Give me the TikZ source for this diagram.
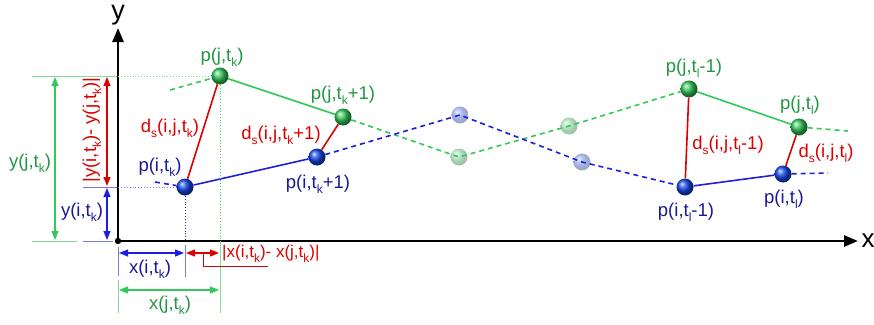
\documentclass[tikz,border=0pt]{standalone}
\usepackage{fontspec}
\setmainfont{Liberation Sans}
\usetikzlibrary{arrows.meta}

\definecolor{ptgreen}{RGB}{50,200,90}
\definecolor{txgreen}{RGB}{35,150,65}
\definecolor{ltgreen}{RGB}{130,220,150}
\definecolor{ptblue}{RGB}{30,30,220}
\definecolor{balblue}{RGB}{20,70,235}
\definecolor{txblue}{RGB}{25,25,150}
\definecolor{ltblue}{RGB}{120,120,230}
\definecolor{ptred}{RGB}{220,0,0}

\newcommand\sbs[1]{\raisebox{-5pt}{\fontsize{12}{12}\selectfont #1}}
\newcommand\tsk{t\sbs{k}}
\newcommand\tsl{t\sbs{l}}
\newcommand\dss{d\sbs{s}}

\tikzset{
  ball/.style={circle,inner sep=0pt,minimum size=17pt,shading=ball},
  gball/.style={ball,ball color=ptgreen},
  bball/.style={ball,ball color=balblue},
  faded/.style={fill opacity=0.4},
  lbl/.style={font=\fontsize{18.5}{21}\selectfont,inner sep=1pt},
  dimarrow/.style={line width=1.2pt,{Triangle[length=9pt,width=7pt]}-{Triangle[length=9pt,width=7pt]}},
  extline/.style={line width=0.9pt},
  proj/.style={line width=0.9pt,dotted},
  track/.style={line width=1.6pt},
  trackdash/.style={line width=1.6pt,dash pattern=on 5pt off 4pt}
}

\begin{document}
\begin{tikzpicture}[x=1pt,y=-1pt]
    \useasboundingbox (0,0) rectangle (874,324);

    % axes
    \coordinate (O) at (118,241);
    \draw[line width=2.6pt,-{Triangle[length=14pt,width=11pt]}] (O) -- (118,28) node[above=-2pt,font=\fontsize{27}{27}\selectfont] (ylab) {y};
    \draw[line width=2.6pt,-{Triangle[length=14pt,width=11pt]}] (O) -- (858,241) node[right=-1pt,font=\fontsize{26}{26}\selectfont] (xlab) {x};
    \fill (O) circle (3.2pt);

    % trajectory points
    \node[bball] (pik) at (185,187) {};
    \node[gball] (pjk) at (220,76) {};
    \node[gball] (pjk1) at (343,117) {};
    \node[bball] (pik1) at (317,157) {};
    \node[bball,faded] (b1) at (460,115) {};
    \node[gball,faded] (g1) at (459,157) {};
    \node[gball,faded] (g2) at (569,126) {};
    \node[bball,faded] (b2) at (582,162) {};
    \node[gball] (pjl1) at (689,89) {};
    \node[gball] (pjl) at (799,127) {};
    \node[bball] (pil1) at (685,187) {};
    \node[bball] (pil) at (783,174) {};
    \coordinate (gl) at (170,90);
    \coordinate (bl) at (155,182);
    \coordinate (gr) at (848,131);
    \coordinate (br) at (828,173);

    % tracks
    \draw[track,ptgreen] (pjk) -- (pjk1);
    \draw[track,ptgreen] (pjl1) -- (pjl);
    \draw[track,ptblue] (pik) -- (pik1);
    \draw[track,ptblue] (pil1) -- (pil);
    \draw[trackdash,ptgreen] (gl) -- (pjk);
    \draw[trackdash,ptgreen] (pjk1) -- (g1.center) -- (g2.center) -- (pjl1);
    \draw[trackdash,ptgreen] (pjl) -- (gr);
    \draw[trackdash,ptblue] (bl) -- (pik);
    \draw[trackdash,ptblue] (pik1) -- (b1.center) -- (b2.center) -- (pil1);
    \draw[trackdash,ptblue] (pil) -- (br);

    % distances
    \draw[track,ptred] (pik) -- (pjk);
    \draw[track,ptred] (pik1) -- (pjk1);
    \draw[track,ptred] (pil1) -- (pjl1);
    \draw[track,ptred] (pil) -- (pjl);

    % labels of the points
    \node[lbl,txgreen] (lpjk) at (222,57) {p(j,\tsk)};
    \node[lbl,txgreen] (lpjk1) at (343,95) {p(j,\tsk+1)};
    \node[lbl,txblue] (lpik) at (160,167) {p(i,\tsk)};
    \node[lbl,txblue] (lpik1) at (318,184) {p(i,\tsk+1)};
    \node[lbl,ptred] (ldk) at (170,128) {\dss(i,j,\tsk)};
    \node[lbl,ptred] (ldk1) at (281,135) {\dss(i,j,\tsk+1)};
    \node[lbl,txgreen] (lpjl1) at (694,68) {p(j,\tsl-1)};
    \node[lbl,txgreen] (lpjl) at (800,105) {p(j,\tsl)};
    \node[lbl,ptred] (ldl1) at (728,145) {\dss(i,j,\tsl-1)};
    \node[lbl,ptred] (ldl) at (826,153) {\dss(i,j,\tsl)};
    \node[lbl,txblue] (lpil1) at (686,212) {p(i,\tsl-1)};
    \node[lbl,txblue] (lpil) at (784,199) {p(i,\tsl)};

    % projections
    \draw[proj,ltblue] (O |- pik) -- (pik);
    \draw[proj,ptblue] (pik) -- (pik |- O);
    \draw[proj,ltgreen] (O |- pjk) -- (pjk);
    \draw[proj,ptgreen] (pjk) -- (pjk |- O);

    % extension lines
    \draw[extline,ltgreen] (32,76) -- (117,76);
    \draw[extline,ltgreen] (32,241) -- (77,241);
    \draw[extline,ltblue] (83,187) -- (117,187);
    \draw[extline,ltblue] (83,241) -- (113,241);
    \draw[extline,ltblue] (118,247) -- (118,276);
    \draw[extline,ltgreen] (118,280) -- (118,313);
    \draw[extline,ltblue] (185,245) -- (185,277);
    \draw[extline,ltgreen] (220,241) -- (220,313);

    % dimensions
    \draw[dimarrow,ptgreen] (55,77) -- (55,240);
    \draw[dimarrow,ptred] (107,77) -- (107,186);
    \draw[dimarrow,ptblue] (107,188) -- (107,240);
    \draw[dimarrow,ptblue] (119,253) -- (184,253);
    \draw[dimarrow,ptred] (186,253) -- (219,253);
    \draw[dimarrow,ptgreen] (119,290) -- (219,290);
    \draw[line width=1pt,ptred] (203,253) -- (203,266) -- (268,266);

    \node[lbl,txgreen] (lyj) at (30,163) {y(j,\tsk)};
    \node[lbl,ptred,rotate=90] (ldy) at (92,130) {|y(i,\tsk)- y(j,\tsk)|};
    \node[lbl,txblue] (lyi) at (82,212) {y(i,\tsk)};
    \node[lbl,txblue] (lxi) at (150,269) {x(i,\tsk)};
    \node[lbl,ptred,anchor=west,font=\fontsize{17}{20}\selectfont] (ldx) at (221,254) {|x(i,\tsk)- x(j,\tsk)|};
    \node[lbl,txgreen] (lxj) at (170,305) {x(j,\tsk)};

\end{tikzpicture}
\end{document}
